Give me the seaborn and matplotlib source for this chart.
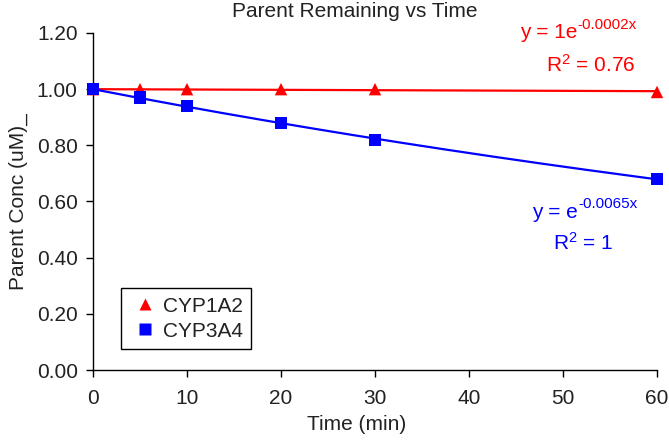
import numpy as np
import pandas as pd
import seaborn as sns
import matplotlib
matplotlib.use("Agg")
import matplotlib.pyplot as plt

# ---- data ----
time_min = [0, 5, 10, 20, 30, 60]
cyp1a2 = [1.00, 1.00, 1.00, 1.00, 1.00, 0.99]
cyp3a4 = [1.00, 0.97, 0.94, 0.88, 0.82, 0.68]
series_names = ["CYP1A2", "CYP3A4"]
eq_base = ["y = 1e", "y = e"]
eq_exp = ["-0.0002x", "-0.0065x"]
r2_labels = ["R$^{2}$ = 0.76", "R$^{2}$ = 1"]
x_ticks = [0, 10, 20, 30, 40, 50, 60]
y_ticks = [0.0, 0.2, 0.4, 0.6, 0.8, 1.0, 1.2]

sns.set_theme(style="white")
plt.rcParams["font.family"] = ["Liberation Sans", "DejaVu Sans"]
plt.rcParams["mathtext.fontset"] = "custom"
plt.rcParams["mathtext.rm"] = "Liberation Sans"
plt.rcParams["mathtext.default"] = "regular"

df = pd.DataFrame({
    "Time": time_min * 2,
    "Conc": cyp1a2 + cyp3a4,
    "Series": [series_names[0]] * len(time_min) + [series_names[1]] * len(time_min),
})

# exponential trendlines fitted from the data (least squares on log, intercept 1)
xs = np.linspace(0, 60, 200)
trend_rows = []
for name, vals in zip(series_names, [cyp1a2, cyp3a4]):
    t = np.array(time_min, dtype=float)
    lv = np.log(np.array(vals, dtype=float))
    k = np.sum(t * lv) / np.sum(t * t)
    for x in xs:
        trend_rows.append((x, np.exp(k * x), name))
trend = pd.DataFrame(trend_rows, columns=["Time", "Conc", "Series"])

palette = {"CYP1A2": "#ff0000", "CYP3A4": "#0000ff"}
markers = {"CYP1A2": "^", "CYP3A4": "s"}

fig = plt.figure(figsize=(6.69, 4.43), dpi=100)
ax = fig.add_axes([93 / 669, 1 - 370 / 443, 564 / 669, 337 / 443])

sns.lineplot(data=trend, x="Time", y="Conc", hue="Series", palette=palette,
             linewidth=1.6, legend=False, ax=ax)
sns.scatterplot(data=df, x="Time", y="Conc", hue="Series", style="Series",
                palette=palette, markers=markers, s=80, edgecolor="none",
                ax=ax, zorder=3, clip_on=False)

ax.set_xlim(0, 60)
ax.set_ylim(0, 1.2)
ax.set_xticks(x_ticks)
ax.set_yticks(y_ticks)
ax.set_xticklabels([str(v) for v in x_ticks])
ax.set_yticklabels([f"{v:.2f}" for v in y_ticks])
ax.tick_params(axis="both", which="both", direction="out", length=5, width=1,
               color="black", labelsize=15, labelcolor="#222222", bottom=True, left=True, pad=6)
ax.tick_params(axis="x", pad=9)

for side in ["top", "right"]:
    ax.spines[side].set_visible(False)
for side in ["left", "bottom"]:
    ax.spines[side].set_color("black")
    ax.spines[side].set_linewidth(1.0)

ax.set_xlabel("Time (min)", fontsize=15, color="#222222", labelpad=2)
ax.xaxis.set_label_coords((357 - 93) / 564, -0.135)
ax.set_ylabel("Parent Conc (uM)_", fontsize=15, color="#222222", labelpad=6)
fig.text(355 / 669, 1 - 2 / 443, "Parent Remaining vs Time",
         ha="center", va="top", fontsize=15, color="#222222")

def px2data(px, py):
    return (px - 93) / 564 * 60, (370 - py) / 337 * 1.2

# trendline equations (base text + smaller raised exponent)
for (bx, by), base, ex, (rx, ry), r2, col in [
    ((577, 33), eq_base[0], eq_exp[0], (591, 65), r2_labels[0], "#ff0000"),
    ((578, 212), eq_base[1], eq_exp[1], (583, 243), r2_labels[1], "#0000ff"),
]:
    x0, y0 = px2data(bx, by)
    ax.text(x0, y0, base, color=col, fontsize=15, ha="right", va="center")
    ax.annotate(ex, (x0, y0), xytext=(0.5, 6), textcoords="offset points",
                color=col, fontsize=11, ha="left", va="center")
    x1, y1 = px2data(rx, ry)
    ax.text(x1, y1, r2, color=col, fontsize=15, ha="center", va="center")

handles, labels = ax.get_legend_handles_labels()
leg = ax.legend(handles, labels, loc="lower left", bbox_to_anchor=(0.05, 0.062),
                borderaxespad=0, frameon=True, fancybox=False, edgecolor="black",
                framealpha=1, fontsize=15, handletextpad=0.1, borderpad=0.4,
                labelspacing=0.3, handlelength=1.5)
leg.get_frame().set_linewidth(1.0)
for t in leg.get_texts():
    t.set_color("#222222")

fig.savefig("out.png", dpi=100)
